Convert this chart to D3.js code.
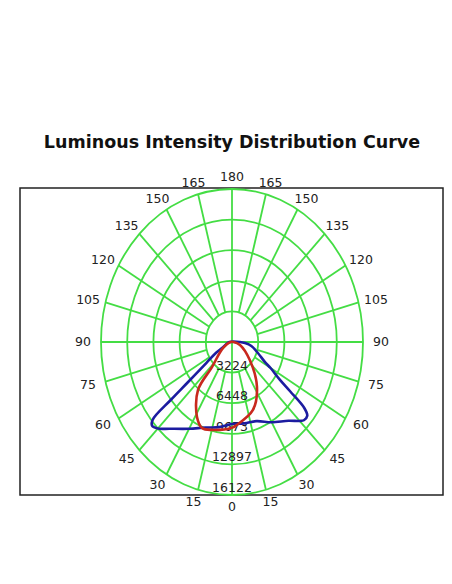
<!DOCTYPE html>
<html><head><meta charset="utf-8">
<script src="https://cdn.jsdelivr.net/npm/d3@7/dist/d3.min.js"></script>
<style>body{margin:0;background:#fff}</style></head>
<body><svg id="c" width="452" height="584"></svg>
<script>
const title = "Luminous Intensity Distribution Curve";
const maxI = 16122;
const ringTicks = [3224, 6448, 9673, 12897, 16122];
const angleTicks = [0, 15, 30, 45, 60, 75, 90, 105, 120, 135, 150, 165, 180];
// signed angle from nadir (negative = left), intensity cd
const blueAngles = [-90,-75,-64,-60,-55,-52,-51,-50,-48,-45,-40,-30,-20,-10,0,10,20,30,40,45,47,50,52,54,56,60,62.5,70,80,86,90];
const blueValues = [320,640,1230,2260,3870,6930,9670,12740,13220,12900,11930,10560,9590,9110,8640,8710,8870,9770,10830,11770,12090,12090,11290,8870,7090,5480,4580,3390,2420,1610,970];
const redAngles = [-90,-60,-43,-39.6,-28.6,-22,-15,0,4,19.8,33,49,72,90];
const redValues = [160,1290,3610,6560,9000,9790,9590,9030,8750,7610,5640,2900,1030,160];

const svg = d3.select("#c");
const cx = 232, cy = 342, rx = 131, ry = 153;
const r = d3.scaleLinear().domain([0, maxI]).range([0, 1]);
const rad = d => d * Math.PI / 180;
const px = (a, v) => cx + rx * r(v) * Math.sin(rad(a));
const py = (a, v) => cy + ry * r(v) * Math.cos(rad(a));

svg.append("text").attr("x", 232).attr("y", 148).attr("text-anchor", "middle")
  .attr("font-family", "DejaVu Sans, Verdana, sans-serif").attr("font-weight", "bold")
  .attr("font-size", 17.5).attr("fill", "#111").text(title);

svg.append("rect").attr("x", 20).attr("y", 188).attr("width", 423).attr("height", 307)
  .attr("fill", "none").attr("stroke", "#222").attr("stroke-width", 1.5);

const g = svg.append("g").attr("stroke", "#44dd44").attr("stroke-width", 1.8).attr("fill", "none");
ringTicks.forEach(t => g.append("ellipse").attr("cx", cx).attr("cy", cy).attr("rx", rx * r(t)).attr("ry", ry * r(t)));
for (let a = -165; a <= 180; a += 15) {
  const full = (a % 90 === 0);
  const v0 = full ? 0 : ringTicks[0];
  g.append("line").attr("x1", px(a, v0)).attr("y1", py(a, v0)).attr("x2", px(a, maxI)).attr("y2", py(a, maxI));
}

const font = "DejaVu Sans, Verdana, sans-serif";
const lab = svg.append("g").attr("font-family", font).attr("font-size", 12.5).attr("fill", "#222").attr("text-anchor", "middle");
angleTicks.forEach(a => {
  const sides = (a === 0 || a === 180) ? [1] : [-1, 1];
  sides.forEach(s => {
    const t = rad(a) * s;
    lab.append("text").attr("x", cx + (rx + 18) * Math.sin(t)).attr("y", cy + (ry + 12) * Math.cos(t))
      .attr("dy", "0.35em").text(a);
  });
});
ringTicks.forEach(t => lab.append("text").attr("x", cx).attr("y", cy + ry * r(t) - 3).text(t));

const line = d3.line().x(d => px(d[0], d[1])).y(d => py(d[0], d[1])).curve(d3.curveCatmullRomClosed.alpha(0.5));
svg.append("path").datum(blueAngles.map((a, i) => [a, blueValues[i]]))
  .attr("d", line).attr("fill", "none").attr("stroke", "#1c1ca0").attr("stroke-width", 2.6);
svg.append("path").datum(redAngles.map((a, i) => [a, redValues[i]]))
  .attr("d", line).attr("fill", "none").attr("stroke", "#c8281e").attr("stroke-width", 2.6);
</script></body></html>
